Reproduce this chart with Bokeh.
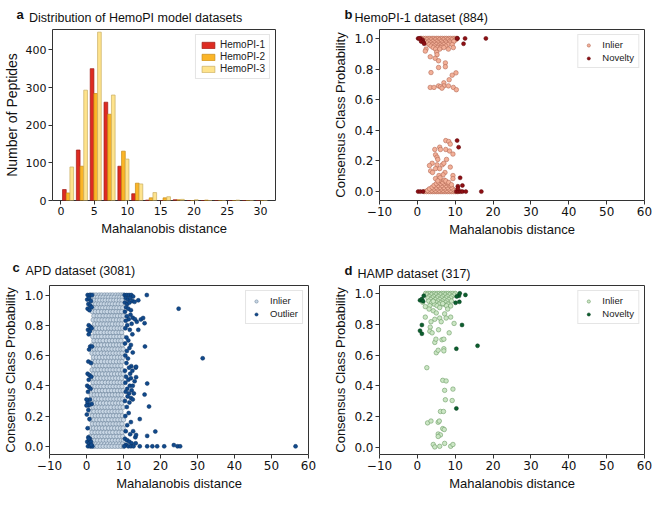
from bokeh.plotting import figure
from bokeh.layouts import column, row
from bokeh.models import (Label, Legend, LegendItem, Range1d, FixedTicker,
                          PrintfTickFormatter)
from bokeh.embed import file_html
from bokeh.resources import INLINE

# ---------------- Panel a: histogram data ----------------
BIN_CENTERS = [1.07, 3.15, 5.23, 7.31, 9.39, 11.47, 13.55, 15.63, 17.71,
               19.79, 21.87, 23.95, 26.03, 28.11, 30.19]
HEMOPI1 = [29, 134, 350, 261, 91, 18, 1, 0, 2, 0, 0, 0, 0, 0, 0]
HEMOPI2 = [20, 91, 284, 229, 131, 46, 7, 7, 2, 0, 1, 0, 0, 0, 0]
HEMOPI3 = [89, 293, 447, 280, 110, 44, 21, 10, 3, 2, 0, 0, 1, 0, 0]
SERIES_NAMES = ["HemoPI-1", "HemoPI-2", "HemoPI-3"]

# ---------------- Panel b: HemoPI-1 (884) ----------------
B_IN_X = [1.0, 1.6, 2.2, 2.8, 3.3, 3.9, 4.4, 5.0, 5.5, 6.1, 6.6, 7.2, 7.7, 8.3, 8.8, 9.4, 9.9, 10.4,
          1.3, 2.5, 3.6, 4.7, 5.8, 6.9, 8.0, 9.1, 10.1,
          2.0, 3.0, 4.1, 5.2, 6.3, 7.4, 8.5, 9.6,
          2.6, 3.5, 4.5, 5.5, 6.6, 7.6, 8.6,
          3.1, 4.0, 5.0, 6.0, 7.0, 8.1, 9.2,
          3.6, 4.5, 5.6, 6.4, 7.5,
          4.2, 5.3, 6.2, 7.0, 9.5,
          2.3, 4.8, 5.9, 8.2,
          2.1, 3.4, 5.1, 5.2, 4.7, 5.6, 7.4, 7.4, 5.6, 3.6, 10.2, 9.2, 8.4, 7.0,
          7.0, 8.2, 5.6, 6.1, 6.5, 3.4, 4.4, 9.5, 10.3,
          1.8, 2.4, 3.0, 3.5, 4.0, 4.5, 5.0, 5.5, 6.0, 6.5, 7.0, 7.5, 8.0, 8.5, 9.0, 9.5, 10.0, 10.6,
          2.7, 3.8, 4.8, 5.8, 6.8, 7.8, 8.8, 9.8,
          3.2, 4.3, 5.3, 6.3, 7.3, 8.3, 9.3,
          3.9, 5.0, 6.0, 7.0, 8.0, 9.0,
          4.4, 5.5, 6.5, 7.6, 8.6,
          5.0, 6.1, 7.1, 8.1,
          5.6, 6.7, 7.7, 5.9, 7.1,
          7.5, 8.3, 8.7, 4.6, 5.9, 6.1, 7.5, 8.5, 9.4, 4.8, 5.2, 5.4, 7.7,
          3.9, 3.2, 5.2, 6.6, 7.0, 8.7, 4.8, 5.9, 3.5, 4.0, 7.3, 6.8, 5.7,
          9.4, 9.4, 4.8, 6.0, 5.4, 7.5, 8.3, 9.0]
B_IN_Y = [1.0] * 18 + [0.99] * 9 + [0.98] * 8 + [0.97] * 7 + [0.96] * 7 + [0.95] * 5 + [0.94] * 5 + \
         [0.93] * 4 + \
         [0.917, 0.88, 0.91, 0.894, 0.87, 0.854, 0.84, 0.815, 0.81, 0.777, 0.775, 0.76, 0.73, 0.71,
          0.69, 0.69, 0.69, 0.685, 0.675, 0.68, 0.68, 0.68, 0.665] + \
         [0.0] * 18 + [0.008] * 8 + [0.018] * 7 + [0.028] * 6 + [0.04] * 5 + [0.052] * 4 + \
         [0.062, 0.062, 0.062, 0.075, 0.075] + \
         [0.333, 0.327, 0.31, 0.275, 0.29, 0.275, 0.275, 0.265, 0.245, 0.24, 0.225, 0.21, 0.21,
          0.185, 0.17, 0.175, 0.175, 0.185, 0.16, 0.15, 0.15, 0.135, 0.125, 0.125, 0.11, 0.105,
          0.105, 0.085, 0.085, 0.09, 0.07, 0.07, 0.06, 0.045]
B_NOV_X = [0.2, 0.8, 1.4, 1.0, 1.6, 1.8, 0.5, 10.6, 12.6, 12.2, 18.1, 10.5,
           0.2, 0.8, 1.5, 10.3, 10.9, 11.4, 11.9, 12.8, 16.9,
           10.5, 10.9, 11.3, 11.9, 10.7, 10.7]
B_NOV_Y = [1.0, 1.0, 0.99, 0.98, 0.975, 0.965, 1.0, 1.0, 1.0, 0.965, 1.0, 1.0,
           0.0, 0.0, 0.0, 0.0, 0.0, 0.0, 0.0, 0.0, 0.0,
           0.333, 0.29, 0.09, 0.04, 0.035, 0.02]

# ---------------- Panel c: APD (3081) ----------------
C_ROW_Y = [1.000, 0.985, 0.965, 0.940, 0.915, 0.890, 0.862, 0.835, 0.808, 0.780,
           0.752, 0.725, 0.698, 0.670, 0.642, 0.615, 0.588, 0.560, 0.532, 0.505,
           0.478, 0.450, 0.422, 0.395, 0.368, 0.340, 0.312, 0.285, 0.258, 0.230,
           0.202, 0.175, 0.148, 0.120, 0.092, 0.065, 0.038, 0.015, 0.000]
C_ROW_X = [
    [1.1, 1.9, 2.6, 3.4, 4.1, 4.9, 5.6, 6.4, 7.1, 7.9, 8.6, 9.3, 9.9],
    [1.5, 2.3, 3.0, 3.8, 4.5, 5.3, 6.0, 6.8, 7.5, 8.3, 9.0, 9.7],
    [1.3, 2.0, 2.9, 3.6, 4.4, 5.1, 5.9, 6.6, 7.4, 8.1, 8.9, 9.6],
    [1.7, 2.5, 3.3, 4.0, 4.8, 5.6, 6.3, 7.0, 7.8, 8.6, 9.4],
    [2.1, 2.8, 3.7, 4.4, 5.2, 6.0, 6.7, 7.5, 8.2, 9.0, 9.8],
    [1.6, 2.4, 3.2, 4.1, 4.9, 5.6, 6.5, 7.2, 8.0, 8.8, 9.5],
    [2.0, 2.9, 3.6, 4.5, 5.3, 6.1, 6.9, 7.7, 8.4, 9.2, 9.9],
    [1.8, 2.6, 3.4, 4.2, 5.0, 5.8, 6.6, 7.3, 8.1, 8.9, 9.6],
    [2.2, 3.0, 3.9, 4.7, 5.5, 6.3, 7.0, 7.9, 8.6, 9.4],
    [1.9, 2.7, 3.5, 4.3, 5.1, 6.0, 6.7, 7.5, 8.3, 9.1, 9.8],
    [2.3, 3.1, 3.9, 4.8, 5.6, 6.4, 7.2, 8.0, 8.8, 9.5],
    [1.7, 2.5, 3.3, 4.1, 5.0, 5.8, 6.6, 7.4, 8.2, 9.0, 9.8],
    [2.0, 2.9, 3.7, 4.5, 5.4, 6.2, 7.0, 7.8, 8.6, 9.3],
    [1.6, 2.4, 3.2, 4.0, 4.9, 5.7, 6.5, 7.3, 8.1, 8.9, 9.7],
    [2.1, 2.9, 3.6, 4.6, 5.3, 6.1, 6.9, 7.7, 8.5, 9.3, 9.9],
    [1.5, 2.3, 3.1, 4.0, 4.8, 5.6, 6.4, 7.2, 8.0, 8.8, 9.6],
    [1.9, 2.7, 3.5, 4.4, 5.2, 6.0, 6.8, 7.6, 8.4, 9.2, 9.9],
    [1.6, 2.4, 3.2, 4.0, 4.9, 5.7, 6.5, 7.3, 8.1, 8.9, 9.6],
    [1.9, 2.8, 3.6, 4.4, 5.2, 6.1, 6.9, 7.7, 8.5, 9.3],
    [1.5, 2.3, 3.1, 4.0, 4.8, 5.6, 6.4, 7.2, 8.0, 8.8, 9.7],
    [1.8, 2.7, 3.5, 4.3, 5.2, 6.0, 6.8, 7.6, 8.4, 9.2, 9.9],
    [1.4, 2.2, 3.0, 3.9, 4.7, 5.5, 6.3, 7.1, 7.9, 8.7, 9.5],
    [1.8, 2.6, 3.4, 4.2, 5.1, 5.9, 6.7, 7.5, 8.3, 9.1, 9.9],
    [1.5, 2.3, 3.1, 3.9, 4.7, 5.6, 6.4, 7.2, 8.0, 8.8, 9.6],
    [1.9, 2.7, 3.5, 4.3, 5.1, 6.0, 6.8, 7.6, 8.4, 9.2, 9.9],
    [1.3, 2.1, 2.9, 3.8, 4.6, 5.4, 6.2, 7.0, 7.8, 8.6, 9.4],
    [1.7, 2.5, 3.3, 4.1, 5.0, 5.8, 6.6, 7.4, 8.2, 9.0, 9.8],
    [1.4, 2.2, 3.0, 3.8, 4.6, 5.4, 6.3, 7.1, 7.9, 8.7, 9.5],
    [1.8, 2.6, 3.4, 4.2, 5.0, 5.8, 6.6, 7.5, 8.3, 9.1, 9.9],
    [1.2, 2.0, 2.9, 3.7, 4.5, 5.3, 6.1, 6.9, 7.7, 8.5, 9.3],
    [1.6, 2.4, 3.2, 4.0, 4.9, 5.7, 6.5, 7.3, 8.1, 8.9, 9.7],
    [1.2, 2.0, 2.8, 3.6, 4.4, 5.2, 6.0, 6.9, 7.7, 8.5, 9.3, 10.0],
    [1.6, 2.4, 3.2, 4.0, 4.8, 5.6, 6.4, 7.2, 8.0, 8.8, 9.6],
    [1.1, 1.9, 2.7, 3.5, 4.3, 5.1, 6.0, 6.8, 7.6, 8.4, 9.2, 9.9],
    [1.5, 2.3, 3.1, 3.9, 4.7, 5.5, 6.3, 7.1, 8.0, 8.8, 9.6],
    [1.0, 1.8, 2.6, 3.4, 4.2, 5.0, 5.8, 6.6, 7.4, 8.2, 9.0, 9.8],
    [1.4, 2.2, 3.0, 3.8, 4.6, 5.4, 6.2, 7.0, 7.8, 8.6, 9.4, 10.0],
    [1.0, 1.7, 2.5, 3.3, 4.1, 4.9, 5.7, 6.5, 7.3, 8.1, 8.9, 9.7],
    [1.3, 2.1, 2.9, 3.7, 4.5, 5.3, 6.1, 6.9, 7.7, 8.5, 9.3, 10.0],
]
C_OUT_X = [0.3, 0.9, 1.5, 0.2, 0.7, 1.2, 0.5, 1.0, 0.3, 0.8, 1.4,
           0.6, 1.1, 0.4, 0.9, 1.4, 0.6, 1.0, 1.5, 0.7, 0.5, 1.2,
           0.3, 0.8, 1.3, 0.6, 0.2, 0.7, 1.1, 0.4, 0.9, 0.3, 1.4, 0.6,
           0.1, 0.8, 0.3, 0.5, 0.9, 0.2, 0.7, 1.2, 0.4, 1.0, 1.6, 1.3, 0.6,
           0.0, 0.0, 0.5,
           10.3, 10.9, 11.5, 12.1, 12.6, 10.6, 11.2, 11.8, 12.4, 10.4, 11.0, 11.6,
           10.7, 11.3, 12.0, 10.4, 11.9, 10.9, 12.5, 11.4, 10.6, 13.1, 12.2, 11.0,
           10.5, 11.7, 12.4, 10.8, 11.3, 10.4, 12.0, 11.6, 10.9, 12.5, 10.5, 11.2,
           10.8, 12.1, 11.5, 13.3, 10.4, 11.8, 12.4, 10.7, 11.3, 12.0, 13.0, 10.5,
           11.7, 12.5, 11.0, 12.2, 10.6, 11.5, 12.8, 11.1, 12.0, 10.4, 11.6, 12.5,
           10.9, 11.4, 10.5, 12.0, 11.0, 10.6, 11.8, 12.6, 13.2, 10.4, 11.0, 11.6,
           12.2, 10.7, 11.3, 12.0, 12.7, 10.2, 13.3,
           14.0, 13.6, 14.7, 15.3, 15.7, 14.0, 15.8, 13.4, 13.4, 16.4, 15.7, 16.9,
           14.4, 18.6, 16.4, 13.4, 14.4, 16.4, 17.8, 19.1, 21.0, 23.6, 24.6, 25.3,
           56.5, 16.3, 24.9, 31.4, 13.0]
C_OUT_Y = [1.0, 1.0, 1.0, 0.97, 0.98, 0.96, 0.94, 0.93, 0.91, 0.90, 0.92,
           0.80, 0.79, 0.77, 0.76, 0.78, 0.74, 0.66, 0.66, 0.64, 0.56, 0.55,
           0.48, 0.47, 0.46, 0.44, 0.40, 0.39, 0.38, 0.36, 0.31, 0.29, 0.28, 0.27,
           0.21, 0.18, 0.12, 0.06, 0.05, 0.03, 0.02, 0.03, 0.0, 0.0, 0.0, 0.01, 0.05,
           0.31, 0.27, 0.24,
           1.0, 1.0, 1.0, 1.0, 0.99, 0.98, 0.97, 0.98, 0.96, 0.95, 0.94, 0.95,
           0.92, 0.91, 0.90, 0.89, 0.87, 0.86, 0.85, 0.84, 0.83, 0.84, 0.81, 0.80,
           0.78, 0.77, 0.74, 0.72, 0.70, 0.68, 0.67, 0.65, 0.63, 0.62, 0.60, 0.58,
           0.55, 0.53, 0.52, 0.52, 0.50, 0.48, 0.50, 0.46, 0.44, 0.45, 0.43, 0.42,
           0.40, 0.40, 0.38, 0.37, 0.36, 0.35, 0.35, 0.33, 0.32, 0.30, 0.29, 0.31,
           0.26, 0.22, 0.20, 0.16, 0.14, 0.10, 0.08, 0.10, 0.06, 0.05, 0.04, 0.03,
           0.02, 0.01, 0.0, 0.0, 0.0, 0.0, 0.02,
           0.965, 0.823, 0.839, 0.848, 0.814, 0.77, 0.66, 0.526, 0.457, 0.415, 0.342, 0.263,
           0.18, 0.098, 0.069, 0.075, 0.0, 0.0, 0.0, 0.0, 0.0, 0.008, 0.0, 0.0,
           0.0, 1.0, 0.91, 0.582, 0.955]

# ---------------- Panel d: HAMP (317) ----------------
D_IN_X = [2.2, 2.8, 3.4, 4.0, 4.6, 5.2, 5.8, 6.4, 7.0, 7.6, 8.2, 8.8, 9.4, 10.0,
          2.5, 3.7, 4.9, 6.1, 7.3, 8.5, 9.7,
          3.1, 4.3, 5.5, 6.7, 7.9, 9.1,
          2.8, 4.0, 5.2, 6.4, 7.6, 8.8,
          3.5, 4.7, 5.9, 7.1, 8.3,
          3.0, 4.2, 5.4, 6.6, 7.8, 9.0,
          3.8, 5.0, 6.2, 7.4,
          4.5, 5.7, 6.9, 8.1,
          3.3, 5.2, 7.7,
          4.2, 1.4, 6.7, 2.1, 5.9, 8.8, 3.1, 8.0, 4.2, 5.0, 7.2, 5.9, 7.6, 8.8, 4.6,
          2.1, 3.4, 6.3, 9.7, 3.6, 3.3, 3.9, 5.6, 8.4, 4.6, 4.9, 6.5, 7.0, 5.0, 5.5,
          7.0, 7.0, 2.5, 6.7, 7.6, 7.2, 9.4, 7.4, 9.2, 6.1, 6.9, 2.7, 3.6, 5.5, 5.8,
          6.7, 7.1, 5.5, 6.1, 5.5, 4.2, 4.6, 5.9, 7.2, 8.8, 9.4]
D_IN_Y = [1.0] * 14 + [0.99] * 7 + [0.98] * 6 + [0.97] * 6 + [0.96] * 5 + [0.95] * 6 + \
         [0.94] * 4 + [0.93] * 4 + [0.92] * 3 + \
         [0.949, 0.943, 0.934, 0.914, 0.908, 0.918, 0.898, 0.898, 0.887, 0.873, 0.867, 0.84,
          0.84, 0.846, 0.832,
          0.846, 0.781, 0.816, 0.805, 0.816, 0.754, 0.744, 0.764, 0.744, 0.682, 0.703, 0.699,
          0.703, 0.615, 0.631,
          0.641, 0.627, 0.518, 0.436, 0.432, 0.371, 0.379, 0.31, 0.305, 0.234, 0.234, 0.16,
          0.172, 0.164, 0.172,
          0.123, 0.117, 0.088, 0.082, 0.072, 0.02, 0.004, 0.008, 0.027, 0.008, 0.02]
D_NOV_X = [0.7, 1.2, 1.5, 1.7, 1.2, 0.7, 1.2, 10.3, 15.9, 10.3, 11.8, 10.1, 11.1, 11.0,
           11.2, 12.7, 10.4]
D_NOV_Y = [0.955, 0.963, 0.949, 0.984, 0.795, 0.758, 0.738, 0.641, 0.66, 0.254, 0.795,
           0.939, 0.945, 0.984, 1.0, 0.99, 0.98]

X_TICKS = [-10, 0, 10, 20, 30, 40, 50, 60]
Y_TICKS = [0.0, 0.2, 0.4, 0.6, 0.8, 1.0]

TXT = "Liberation Sans"
NUM = "DejaVu Sans"
PANEL_STEP = 18.5  # vertical offset between stacked "above" annotation panels


def style(p, tick_size):
    p.outline_line_color = "#333333"
    p.outline_line_width = 1
    p.xgrid.visible = False
    p.ygrid.visible = False
    p.background_fill_color = "white"
    p.border_fill_color = "white"
    for ax in (p.xaxis[0], p.yaxis[0]):
        ax.axis_line_color = None
        ax.major_tick_line_color = "#333333"
        ax.major_tick_out = 4
        ax.major_tick_in = 0
        ax.minor_tick_line_color = None
        ax.major_label_text_font = NUM
        ax.major_label_text_font_size = tick_size
        ax.major_label_text_color = "#111111"
        ax.axis_label_text_font = TXT
        ax.axis_label_text_font_style = "normal"
        ax.axis_label_text_font_size = "13px"
        ax.axis_label_text_color = "#111111"
        ax.major_label_standoff = 2
        ax.axis_label_standoff = 3


def add_title(p, letter, text, x_letter, x_text, y_screen):
    p.add_layout(Label(x=x_letter, y=y_screen, x_units="screen", y_units="screen",
                       text=letter, text_font=TXT, text_font_style="bold",
                       text_font_size="13px", text_baseline="middle", text_color="#111111"),
                 "above")
    p.add_layout(Label(x=x_text, y=y_screen - PANEL_STEP, x_units="screen", y_units="screen",
                       text=text, text_font=TXT, text_font_size="12.5px",
                       text_baseline="middle", text_color="#111111"),
                 "above")


def style_legend(leg, glyph_w):
    leg.location = "top_right"
    leg.label_text_font = TXT
    leg.label_text_font_size = "9.5px"
    leg.label_text_color = "#222222"
    leg.glyph_width = glyph_w
    leg.glyph_height = 8
    leg.label_height = 9
    leg.label_standoff = 4
    leg.spacing = 2
    leg.padding = 4
    leg.margin = 5
    leg.border_line_color = "#cccccc"
    leg.border_line_width = 1
    leg.background_fill_alpha = 0.9


# ---------------- Figure a ----------------
pa = figure(width=330, height=247, output_backend="svg", toolbar_location=None,
            x_range=Range1d(-1.27, 32.25), y_range=Range1d(0, 454),
            min_border_left=38, min_border_right=55, min_border_top=26, min_border_bottom=43)
style(pa, "11px")
pa.xaxis.ticker = FixedTicker(ticks=[0, 5, 10, 15, 20, 25, 30])
pa.yaxis.ticker = FixedTicker(ticks=[0, 100, 200, 300, 400])
pa.xaxis.axis_label = "Mahalanobis distance"
pa.yaxis.axis_label = "Number of Peptides"
pa.yaxis.axis_label_text_font_size = "14px"

bin_w = BIN_CENTERS[1] - BIN_CENTERS[0]
bar_w = bin_w * 0.8 / 3
fills = ["#de2b22", "#fbb527", "#fee38c"]
edges = ["#9e1a14", "#c58a12", "#c9ad62"]
items = []
for k, (vals, name) in enumerate(zip([HEMOPI1, HEMOPI2, HEMOPI3], SERIES_NAMES)):
    xs = [c + (k - 1) * bar_w for c in BIN_CENTERS]
    r = pa.vbar(x=xs, top=vals, width=bar_w, bottom=0, fill_color=fills[k],
                line_color=edges[k], line_width=0.7)
    items.append(LegendItem(label=name, renderers=[r]))
leg_a = Legend(items=items)
style_legend(leg_a, 16)
leg_a.label_text_font_size = "10px"
leg_a.spacing = 1
pa.add_layout(leg_a)
add_title(pa, "a", "Distribution of HemoPI model datasets", -36, -23.5, 15)


def scatter_panel(w, h, borders, xin, yin, xo, yo, fill_in, line_in, fill_o, line_o,
                  label_o, ylo, yhi):
    p = figure(width=w, height=h, output_backend="svg", toolbar_location=None,
               x_range=Range1d(-10, 60), y_range=Range1d(ylo, yhi),
               min_border_left=borders[0], min_border_right=borders[1],
               min_border_top=borders[2], min_border_bottom=borders[3])
    style(p, "12px")
    p.xaxis.ticker = FixedTicker(ticks=X_TICKS)
    p.xaxis.major_label_overrides = {-10: "\u221210"}
    p.yaxis.ticker = FixedTicker(ticks=Y_TICKS)
    p.yaxis.formatter = PrintfTickFormatter(format="%.1f")
    p.xaxis.axis_label = "Mahalanobis distance"
    p.yaxis.axis_label = "Consensus Class Probability"
    r1 = p.scatter(xin, yin, size=4.5, fill_color=fill_in, line_color=line_in, line_width=0.6)
    r2 = p.scatter(xo, yo, size=4, fill_color=fill_o, line_color=line_o, line_width=0.5)
    leg = Legend(items=[LegendItem(label="Inlier", renderers=[r1]),
                        LegendItem(label=label_o, renderers=[r2])])
    style_legend(leg, 12)
    leg.label_standoff = 8
    p.add_layout(leg)
    return p


pb = scatter_panel(322, 247, (47, 8, 26, 47), B_IN_X, B_IN_Y, B_NOV_X, B_NOV_Y,
                   "#f3b098", "#b46a55", "#8e0f14", "#5e080b", "Novelty", -0.058, 1.058)
add_title(pb, "b", "HemoPI-1 dataset (884)", -35, -25, 15)

c_x = [x for rowx in C_ROW_X for x in rowx]
c_y = [y for y, rowx in zip(C_ROW_Y, C_ROW_X) for _ in rowx]
pc = scatter_panel(330, 246, (40, 22, 38, 36), c_x, c_y, C_OUT_X, C_OUT_Y,
                   "#c9d7e5", "#6f879e", "#114a8c", "#0a3161", "Outlier", -0.054, 1.063)
add_title(pc, "c", "APD dataset (3081)", -37, -24, 18.5)

pd_ = scatter_panel(322, 246, (47, 8, 38, 36), D_IN_X, D_IN_Y, D_NOV_X, D_NOV_Y,
                    "#cbe6c4", "#6d9c67", "#0b5f2e", "#063d1c", "Novelty", -0.045, 1.051)
add_title(pd_, "d", "HAMP dataset (317)", -35, -22, 15)

layout = column(row(pa, pb), row(pc, pd_))
open("out.html", "w").write(file_html(layout, INLINE))
